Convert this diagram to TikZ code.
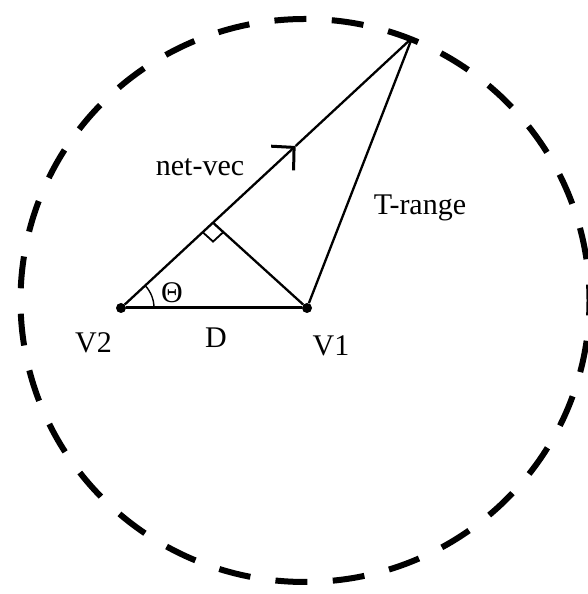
\documentclass[tikz,border=0pt]{standalone}
\usepackage{fontspec}
\setmainfont{Liberation Serif}
\usetikzlibrary{arrows.meta,calc,angles}
\tikzset{
  vdot/.style={circle,fill=black,inner sep=0pt,minimum size=10pt},
  lbl/.style={font=\fontsize{30}{32}\selectfont,inner sep=0pt},
  leg/.style={line width=2.3pt},
}
\begin{document}
\begin{tikzpicture}[x=1pt,y=1pt]
    \useasboundingbox (0,0) rectangle (588,594);
    \draw[line width=6pt,dash pattern=on 32pt off 25.4pt,dash phase=16pt] (305,293.5) ellipse [x radius=284.5pt,y radius=281.5pt];
    \node[vdot] (V2) at (121,286) {};
    \node[vdot] (V1) at (307,286) {};
    \coordinate (P) at (412,556);
    \coordinate (F) at ($(V2)!0.316!(P)$);
    \coordinate (A) at ($(V2)!0.6!(P)$);
    \coordinate (Fa) at ($(F)!14pt!(V2)$);
    \coordinate (Fb) at ($(F)!14pt!(V1)$);
    \draw[leg,-{Straight Barb[length=16pt,width=33pt,line width=3pt]}] (V2) -- (A);
    \draw[leg] (A) -- (P);
    \draw[leg] (V1) -- (P);
    \draw[leg] (V1) -- (F);
    \draw[line width=3pt] (V2) -- (V1);
    \draw[line width=1.8pt] (Fa) -- ($(Fa)+(Fb)-(F)$) -- (Fb);
    \pic[draw,line width=1.4pt,angle radius=33pt] {angle=V1--V2--P};
    \node[lbl] (v2lbl) at (93.5,251.5) {V2};
    \node[lbl] (v1lbl) at (331,248) {V1};
    \node[lbl] (dlbl) at (216,256.5) {D};
    \node[lbl] (thlbl) at (172,301.5) {Θ};
    \node[lbl] (netlbl) at (200,426.5) {net-vec};
    \node[lbl] (rnglbl) at (420,386) {T-range};
\end{tikzpicture}
\end{document}
